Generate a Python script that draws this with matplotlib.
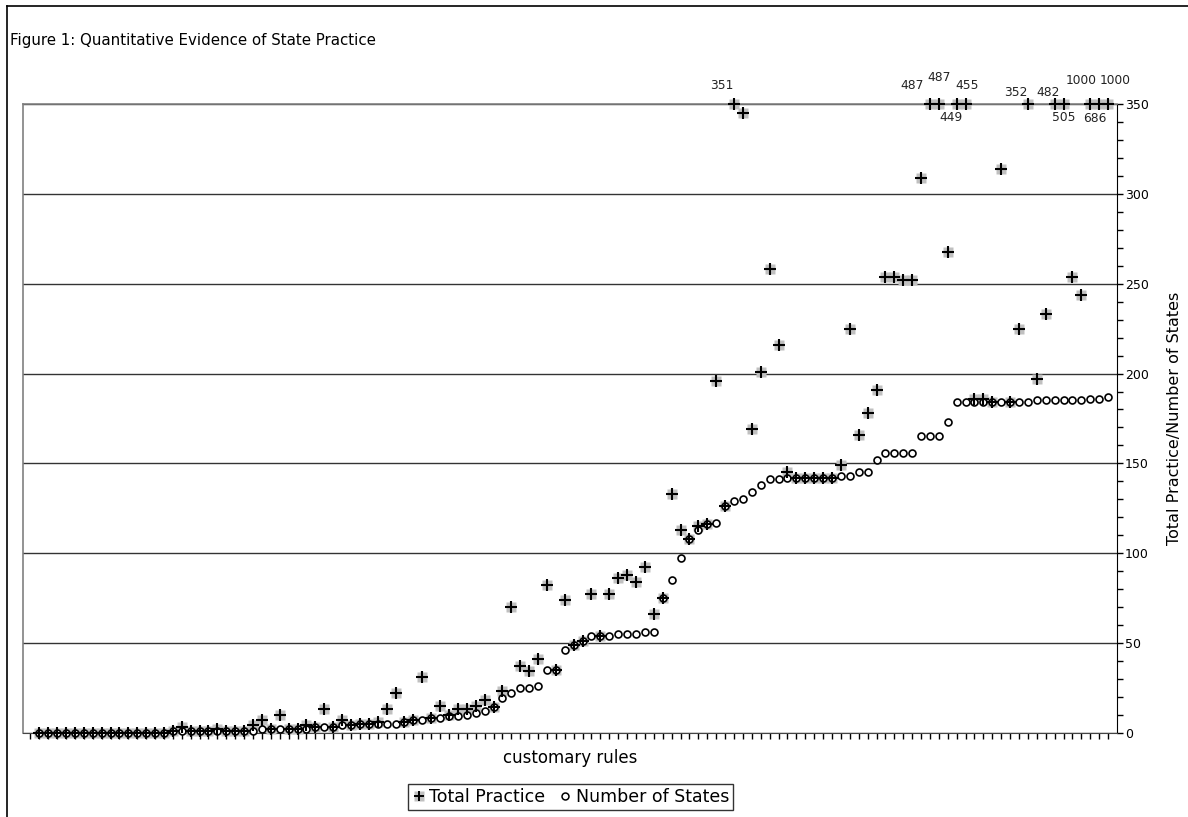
import numpy as np
import matplotlib.pyplot as plt
from matplotlib.lines import Line2D
from matplotlib.ticker import MultipleLocator

# values, one per customary rule (left to right)
total_practice = [
    0, 0, 0, 0, 0, 0, 0, 0, 0, 0, 0, 0, 0, 0, 0,
    1, 3, 1, 1, 1, 2, 1, 1, 1, 4,
    7, 2, 10, 2, 2, 4, 3, 13, 3, 7,
    4, 5, 5, 6, 13, 22, 6, 7, 31, 8,
    15, 10, 13, 13, 15, 18, 14, 23, 70, 37,
    34, 41, 82, 35, 74, 49, 51, 77, 54, 77,
    86, 88, 84, 92, 66, 75, 133, 113, 108, 115,
    116, 196, 126, 351, 345, 169, 201, 258, 216, 145,
    142, 142, 142, 142, 142, 149, 225, 166, 178, 191,
    254, 254, 252, 252, 309, 487, 487, 268, 449, 455,
    186, 186, 184, 314, 184, 225, 352, 197, 233, 482,
    505, 254, 244, 1000, 686, 1000]

num_states = [
    0, 0, 0, 0, 0, 0, 0, 0, 0, 0, 0, 0, 0, 0, 0,
    1, 1, 1, 1, 1, 1, 1, 1, 1, 1,
    2, 2, 2, 2, 2, 2, 3, 3, 3, 4,
    4, 5, 5, 5, 5, 5, 6, 7, 7, 8,
    8, 9, 9, 10, 11, 12, 14, 19, 22, 25,
    25, 26, 35, 35, 46, 49, 51, 54, 54, 54,
    55, 55, 55, 56, 56, 75, 85, 97, 108, 113,
    116, 117, 126, 129, 130, 134, 138, 141, 141, 142,
    142, 142, 142, 142, 142, 143, 143, 145, 145, 152,
    156, 156, 156, 156, 165, 165, 165, 173, 184, 184,
    184, 184, 184, 184, 184, 184, 184, 185, 185, 185,
    185, 185, 185, 186, 186, 187]

y_max = 350
y_ticks = [0, 50, 100, 150, 200, 250, 300, 350]

# where the hand-placed value labels sit, relative to the capped marker (pixels)
label_offsets = [(-12, 19), (-18, 19), (0, 27), (-6, -13), (2, 19), (-12, 12),
                 (-7, 12), (0, -13), (-9, 24), (-4, -14), (7, 24)]

plt.rcParams['font.family'] = 'DejaVu Sans'

x = np.arange(1, len(total_practice) + 1)
tp = np.array(total_practice)
ns = np.array(num_states)
tp_plot = np.minimum(tp, y_max)

fig = plt.figure(figsize=(11.88, 8.17), dpi=100)
ax = fig.add_axes([0.0191, 0.1034, 0.9209, 0.7689])

ax.plot(x, tp_plot, ls='none', marker='s', ms=7, color='#c0c0c0', mec='none',
        zorder=3, clip_on=False)
ax.plot(x, ns, ls='none', marker='o', ms=5, mfc='white', mec='black', mew=1.2,
        zorder=4, clip_on=False)
ax.plot(x, tp_plot, ls='none', marker='+', ms=8, color='black', mew=1.5,
        zorder=5, clip_on=False)

# values above the axis maximum are written next to the capped marker
big = [i for i in range(len(tp)) if tp[i] > y_max]
for k, i in enumerate(big):
    dx, dy = label_offsets[k]
    ax.annotate(str(tp[i]), xy=(x[i], y_max), xytext=(dx, dy),
                textcoords='offset pixels', ha='center', va='center',
                fontsize=8.8, color='#222222', annotation_clip=False)

ax.set_xlim(-0.86, 121.97)
ax.set_ylim(0, y_max)

ax.yaxis.tick_right()
ax.yaxis.set_label_position('right')
ax.set_yticks(y_ticks)
ax.yaxis.set_minor_locator(MultipleLocator(10))
ax.tick_params(axis='y', which='both', direction='out', length=4, width=1,
               labelsize=9, pad=2)
ax.set_xticks(np.arange(0, 122))
ax.tick_params(axis='x', which='both', direction='out', length=4, width=1,
               labelbottom=False)
ax.grid(axis='y', color='#333333', lw=1)
ax.set_axisbelow(True)

ax.spines['left'].set_color('#808080')
ax.spines['top'].set_color('#808080')
ax.spines['left'].set_linewidth(1.2)
ax.spines['top'].set_linewidth(1.2)
ax.spines['right'].set_color('black')
ax.spines['bottom'].set_color('#444444')

ax.set_xlabel('customary rules', fontsize=12, labelpad=8)
ax.set_ylabel('Total Practice/Number of States', fontsize=11.5, labelpad=13)

fig.text(0.0085, 0.951, 'Figure 1: Quantitative Evidence of State Practice',
         fontsize=10.8, ha='left', va='center')

# chart-area border (only top and left visible in the crop)
fig.add_artist(Line2D([0.0063, 1.0], [0.993, 0.993], color='black', lw=1.2))
fig.add_artist(Line2D([0.0063, 0.0063], [0.0, 0.993], color='black', lw=1.2))

h1 = (Line2D([], [], ls='none', marker='s', ms=6.5, color='#c0c0c0', mec='none'),
      Line2D([], [], ls='none', marker='+', ms=7.5, color='black', mew=1.4))
h2 = Line2D([], [], ls='none', marker='o', ms=5, mfc='white', mec='black', mew=1.1)
leg = fig.legend([h1, h2], ['Total Practice', 'Number of States'], loc='center',
                 bbox_to_anchor=(0.4806, 0.0245), ncol=2, fontsize=12.5,
                 frameon=True, fancybox=False, edgecolor='black',
                 handlelength=0.7, handletextpad=0.25, columnspacing=0.8,
                 borderpad=0.25, borderaxespad=0)
leg.get_frame().set_linewidth(1)

fig.savefig('out.png', dpi=100)
